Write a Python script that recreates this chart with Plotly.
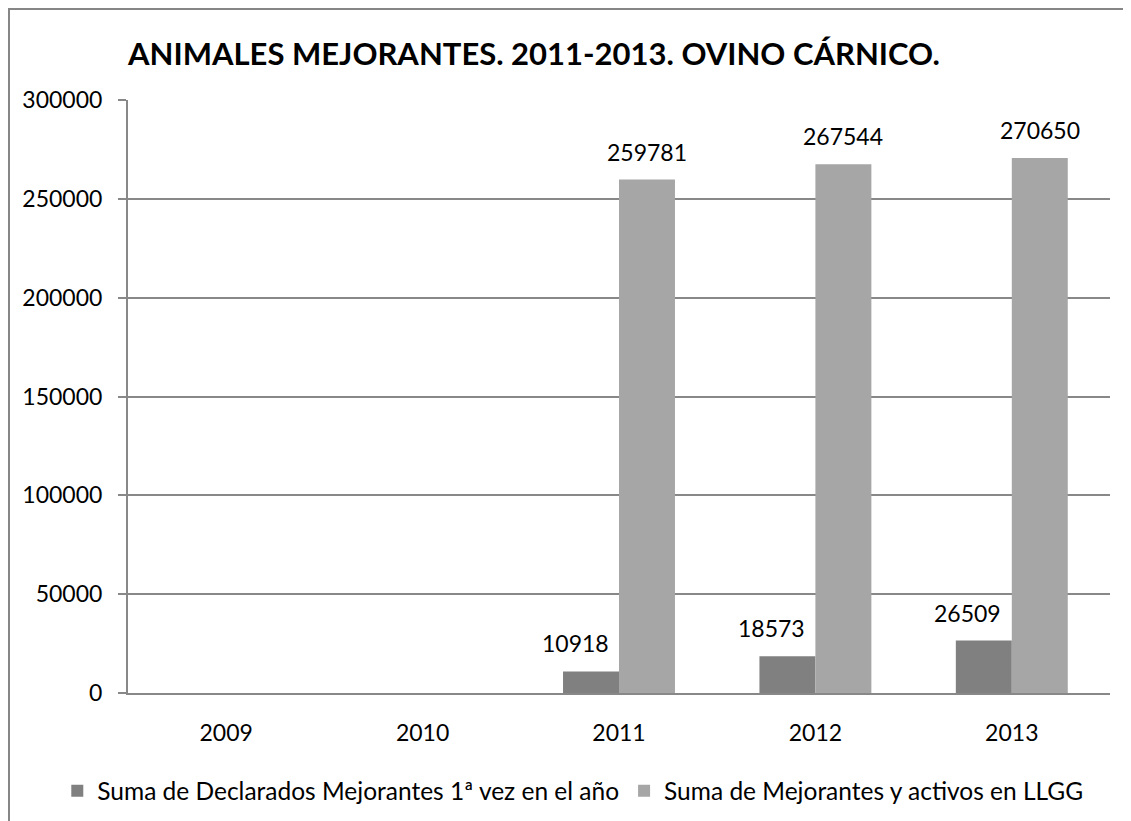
import plotly.graph_objects as go

anios = ["2009", "2010", "2011", "2012", "2013"]
declarados = [None, None, 10918, 18573, 26509]
activos = [None, None, 259781, 267544, 270650]

nombre_1 = "Suma de Declarados Mejorantes 1ª vez en el año"
nombre_2 = "Suma de Mejorantes y activos en LLGG"
titulo = "ANIMALES MEJORANTES. 2011-2013. OVINO CÁRNICO."

fuente = "Lato, Carlito, Calibri, sans-serif"
gris = "#888888"

fig = go.Figure()
fig.add_trace(go.Bar(x=anios, y=declarados, name=nombre_1,
                     marker=dict(color="#808080", line=dict(width=0))))
fig.add_trace(go.Bar(x=anios, y=activos, name=nombre_2,
                     marker=dict(color="#A6A6A6", line=dict(width=0))))

# etiquetas de datos (como en excel, la serie oscura un poco a la izquierda)
for serie, dx in [(declarados, -44), (activos, 28)]:
    for i, v in enumerate(serie):
        if v is None:
            continue
        fig.add_annotation(xref="x", yref="y", x=i, y=v, text=str(v),
                           showarrow=False, xshift=dx, yshift=12,
                           yanchor="bottom",
                           font=dict(size=23, color="black"))

fig.update_layout(
    width=1131, height=821,
    paper_bgcolor="white", plot_bgcolor="white",
    font=dict(family=fuente, size=23, color="black"),
    title=dict(text="<b>" + titulo + "</b>", x=0.465, xanchor="center",
               y=0.944, yanchor="middle", font=dict(size=31)),
    margin=dict(l=120, r=29, t=92, b=136, autoexpand=False),
    barmode="group", bargap=0.43, bargroupgap=0,
    showlegend=True,
    legend=dict(orientation="h", x=-0.072, xanchor="left", y=-0.165,
                yanchor="middle", font=dict(size=24.5), itemwidth=30,
                traceorder="normal"),
    shapes=[dict(type="rect", xref="paper", yref="paper",
                 x0=-0.1212, x1=1.05, y0=-0.3, y1=1.1535,
                 line=dict(color="#868686", width=2), layer="below")],
)
fig.update_yaxes(range=[0, 300000], dtick=50000, tickformat="d",
                 showgrid=True, gridcolor=gris, gridwidth=2,
                 showline=True, linecolor=gris, linewidth=2,
                 ticks="outside", ticklen=8, tickcolor=gris,
                 tickwidth=2, zeroline=False, ticklabelstandoff=11)
fig.update_xaxes(type="category", range=[-0.5, 4.5], autorange=False,
                 showline=True, linecolor=gris, linewidth=2, ticks="",
                 showgrid=False, ticklabelstandoff=18)

fig.write_html("out.html")
